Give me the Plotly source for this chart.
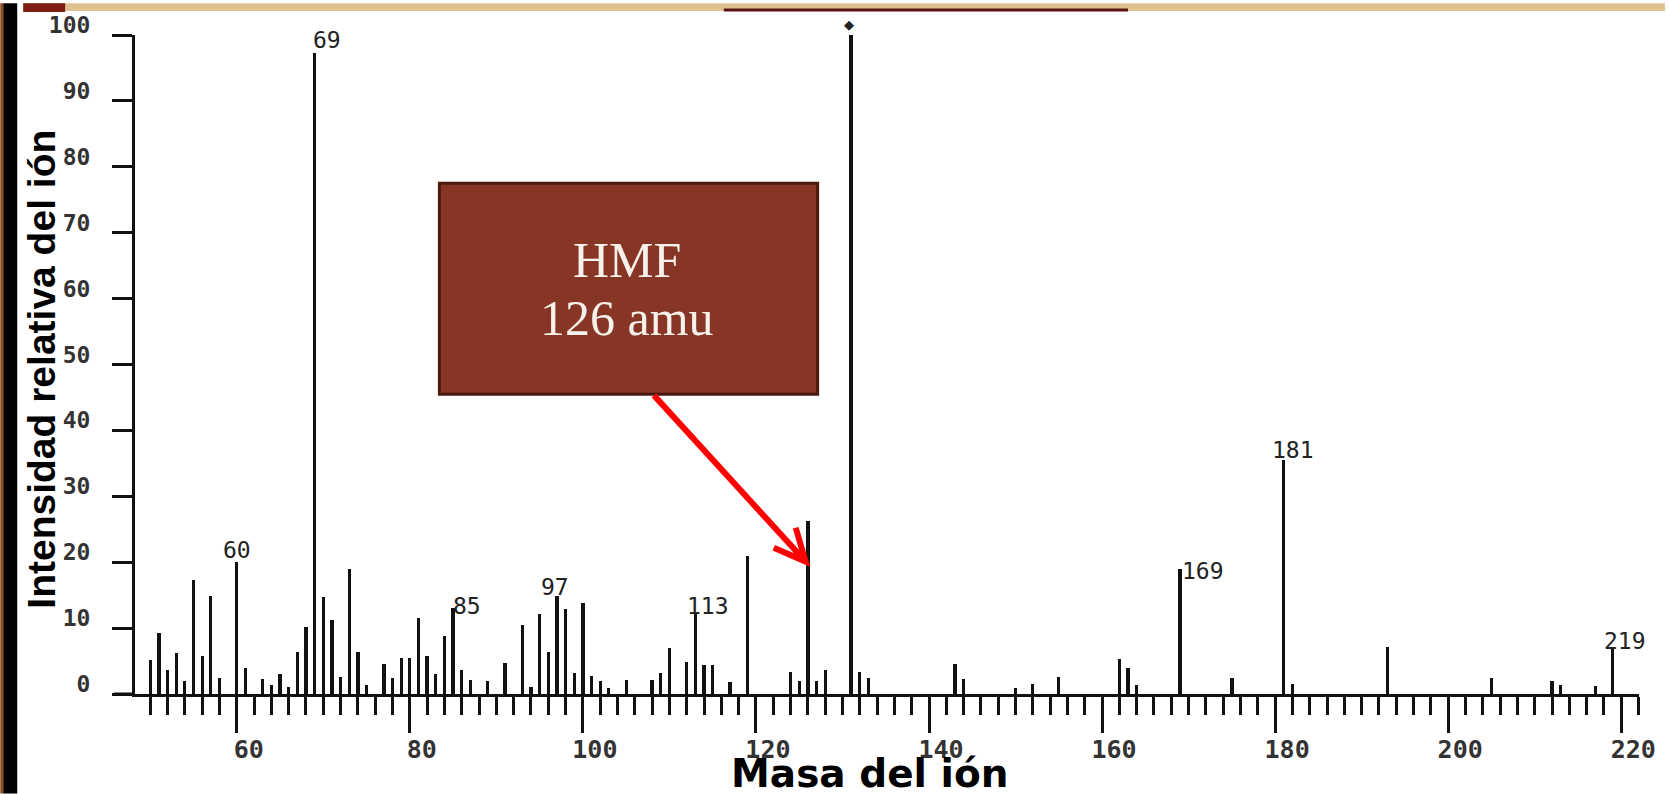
import plotly.graph_objects as go

# ---------------- data ----------------
masses = [50, 51, 52, 53, 54, 55, 56, 57, 58, 60, 61, 63, 64, 65, 66, 67, 68, 69,
          70, 71, 72, 73, 74, 75, 77, 78, 79, 80, 81, 82, 83, 84, 85, 86, 87, 89,
          91, 93, 94, 95, 96, 97, 98, 99, 100, 101, 102, 103, 105, 108, 109, 110,
          112, 113, 114, 115, 117, 119, 124, 125, 126, 127, 128, 131, 132, 133,
          143, 144, 150, 152, 155, 162, 163, 164, 169, 175, 181, 182, 193, 205,
          212, 213, 217, 219]
intensities = [5.1, 9.3, 3.6, 6.2, 1.9, 17.3, 5.7, 14.8, 2.5, 20.0, 3.9, 2.3, 1.4, 3.0, 1.1, 6.4, 10.2, 97.3,
               14.7, 11.2, 2.6, 19.0, 6.4, 1.4, 4.6, 2.5, 5.4, 5.4, 11.6, 5.7, 3.1, 8.8, 13.0, 3.6, 2.2, 1.9,
               4.7, 10.4, 1.0, 12.1, 6.4, 14.8, 12.9, 3.2, 13.8, 2.7, 1.9, 0.9, 2.2, 2.2, 3.2, 7.0,
               4.8, 12.3, 4.4, 4.4, 1.8, 21.0, 3.3, 1.9, 26.3, 1.9, 3.6, 100.0, 3.3, 2.5,
               4.6, 2.3, 0.9, 1.5, 2.6, 5.3, 4.0, 1.3, 19.0, 2.4, 35.5, 1.5, 7.2, 2.4,
               1.9, 1.4, 1.2, 7.0]
labelled_peaks = [69, 60, 85, 97, 113, 169, 181, 219]
base_peak = 131
x_tick_step = 20
y_tick_step = 10
hmf_lines = ["HMF", "126 amu"]
x_title = "Masa del ión"
y_title = "Intensidad relativa del ión"

# ---------------- geometry helpers ----------------
W, H = 1668, 794
L, R, T, B = 135, 26, 32, 100
X0, X1 = 48.24, 222.05
PW, PH = W - L - R, H - T - B


def px_x(px):
    return X0 + (px - L) / PW * (X1 - X0)


def px_y(py):
    return (H - B - py) / PH * 100.0


def paper_x(px):
    return (px - L) / PW


def paper_y(py):
    return (H - B - py) / PH


inten = dict(zip(masses, intensities))

fig = go.Figure()
fig.add_trace(go.Bar(x=masses, y=intensities, width=0.38,
                     marker=dict(color="#111111", line=dict(width=0)),
                     hoverinfo="x+y"))

shapes = []
# slide decoration: left strips and top band
shapes.append(dict(type="rect", xref="paper", yref="paper", x0=paper_x(0), x1=paper_x(3),
                   y0=paper_y(794), y1=paper_y(0), fillcolor="#8a4a1c", line=dict(width=0), layer="above"))
shapes.append(dict(type="rect", xref="paper", yref="paper", x0=paper_x(3), x1=paper_x(17),
                   y0=paper_y(794), y1=paper_y(0), fillcolor="#000000", line=dict(width=0), layer="above"))
shapes.append(dict(type="rect", xref="paper", yref="paper", x0=paper_x(23), x1=paper_x(1668),
                   y0=paper_y(8), y1=paper_y(0), fillcolor="#dfc28f", line=dict(width=0), layer="above"))
shapes.append(dict(type="rect", xref="paper", yref="paper", x0=paper_x(23), x1=paper_x(65),
                   y0=paper_y(9), y1=paper_y(0), fillcolor="#7e1c16", line=dict(width=0), layer="above"))
shapes.append(dict(type="rect", xref="paper", yref="paper", x0=paper_x(725), x1=paper_x(1130),
                   y0=paper_y(8.5), y1=paper_y(5.5), fillcolor="#5a1410", line=dict(width=0), layer="above"))
# x-axis line extension to the left of the y axis
shapes.append(dict(type="line", xref="paper", yref="paper", x0=paper_x(114), x1=0, y0=0, y1=0,
                   line=dict(color="#111111", width=3)))
# HMF call-out box
shapes.append(dict(type="rect", xref="paper", yref="paper", x0=paper_x(440), x1=paper_x(819),
                   y0=paper_y(393), y1=paper_y(181), fillcolor="#873525",
                   line=dict(color="#4a1a0f", width=3), layer="above"))
# red arrow from box to the 126 peak
tail = (px_x(655), px_y(394))
tip = (px_x(807), px_y(561))
w1 = (px_x(775), px_y(547))
w2 = (px_x(797), px_y(527))
shapes.append(dict(type="path", xref="x", yref="y",
                   path=f"M {tail[0]},{tail[1]} L {tip[0]},{tip[1]} M {w1[0]},{w1[1]} L {tip[0]},{tip[1]} L {w2[0]},{w2[1]}",
                   line=dict(color="#ff0000", width=6), layer="above"))

annotations = []
label_offsets = {69: (12, 13), 60: (0, 12), 85: (14, 2), 97: (-2, 9), 113: (13, 7),
                 169: (23, -2), 181: (9, 10), 219: (12, 7)}
for m in labelled_peaks:
    dx, dy = label_offsets[m]
    annotations.append(dict(x=m, y=inten[m], xref="x", yref="y", text=str(m), showarrow=False,
                            xanchor="center", yanchor="middle", xshift=dx, yshift=dy,
                            font=dict(family="DejaVu Sans Mono", size=23, color="#222222")))
annotations.append(dict(x=base_peak, y=inten[base_peak], xref="x", yref="y", text="◆", showarrow=False,
                        xanchor="center", yanchor="middle", xshift=-2, yshift=11,
                        font=dict(family="DejaVu Sans", size=13, color="#222222")))
# HMF text
for txt, base in zip(hmf_lines, [258, 316]):
    annotations.append(dict(x=paper_x(628), y=paper_y(base), xref="paper", yref="paper", text=txt,
                            showarrow=False, xanchor="center", yanchor="middle",
                            font=dict(family="Liberation Serif", size=50, color="#f6f1ea")))
# axis titles
annotations.append(dict(x=paper_x(41), y=paper_y(368), xref="paper", yref="paper", text=y_title,
                        showarrow=False, textangle=-90, xanchor="center", yanchor="middle",
                        font=dict(family="Liberation Sans", size=39, color="#000000", weight="bold")))
annotations.append(dict(x=paper_x(871), y=paper_y(794), xref="paper", yref="paper", text=x_title,
                        showarrow=False, xanchor="center", yanchor="bottom", yshift=-4,
                        font=dict(family="DejaVu Sans", size=39, color="#000000", weight="bold")))

fig.update_layout(
    width=W, height=H,
    margin=dict(l=L, r=R, t=T, b=B, pad=0),
    paper_bgcolor="#ffffff", plot_bgcolor="#ffffff",
    showlegend=False, bargap=0,
    shapes=shapes, annotations=annotations,
    xaxis=dict(range=[X0, X1], showgrid=False, zeroline=False,
               showline=True, linecolor="#111111", linewidth=3,
               tickmode="linear", tick0=0, dtick=x_tick_step,
               ticks="outside", ticklen=36, tickwidth=3, tickcolor="#111111",
               minor=dict(tickmode="linear", tick0=0, dtick=2, ticks="outside", ticklen=18,
                          tickwidth=3, tickcolor="#111111", showgrid=False),
               tickfont=dict(family="DejaVu Sans Mono", size=25, color="#333333", weight="bold"),
               ticklabelstandoff=-5, ticklabelshift=12),
    yaxis=dict(range=[0, 100], showgrid=False, zeroline=False,
               showline=True, linecolor="#111111", linewidth=3,
               tickmode="linear", tick0=0, dtick=y_tick_step,
               ticks="outside", ticklen=20, tickwidth=3, tickcolor="#111111",
               tickfont=dict(family="DejaVu Sans Mono", size=23, color="#333333", weight="bold"),
               ticklabelstandoff=17, ticklabelshift=-10),
)

fig.write_html("out.html", config={"displayModeBar": False},
               post_script="document.body.style.margin='0px';")
